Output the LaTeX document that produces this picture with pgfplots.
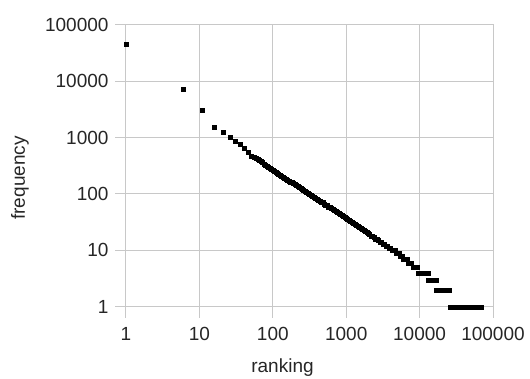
\documentclass[border=0pt]{standalone}
\usepackage{fontspec}
\setmainfont{Liberation Sans}
\usepackage{pgfplots}
\pgfplotsset{compat=1.18}
\usepackage{pgfplotstable}
\definecolor{gridgray}{RGB}{200,200,200}
\pgfplotstableread{
r f
1 46000
6 7100
11 3100
16 1550
21 1250
26 1000
31 870
36 760
41 640
46 550
51 470
56 450
60 427
63 408
66 391
69 374
72 358
76 343
79 327
83 313
87 300
91 287
95 275
100 263
105 253
110 243
115 234
120 225
126 216
132 208
138 200
145 192
151 185
158 178
166 171
174 164
182 158
191 152
200 146
209 141
219 135
229 130
240 125
251 120
263 116
275 111
288 107
302 103
316 99
331 95
347 91
363 88
380 85
398 81
417 78
437 75
457 72
479 70
501 67
525 64
550 62
575 59
603 57
631 55
661 53
692 51
724 49
759 47
794 45
832 43
871 42
912 40
955 39
1000 37
1047 36
1096 34
1148 33
1202 32
1259 30
1318 29
1380 28
1445 27
1514 26
1585 25
1660 24
1738 23
1820 22
1905 21
1995 20
2089 19
2188 18
2291 18
2399 17
2512 16
2630 16
2754 15
2884 14
3020 14
3162 13
3311 13
3467 12
3631 12
3802 11
3981 11
4169 10
4365 10
4500 10
4650 10
4800 9
4950 9
5100 9
5250 9
5450 8
5650 8
5850 8
6050 7
6250 7
6500 7
6750 7
7000 6
7250 6
7500 6
7800 6
8100 5
8400 5
8700 5
9000 5
9300 5
9700 4
10000 4
10300 4
10600 4
11000 4
11400 4
11800 4
12200 4
12500 4
12900 4
13000 3
13400 3
13800 3
14200 3
14600 3
15100 3
15600 3
16100 3
16700 3
17000 2
17500 2
18100 2
18700 2
19300 2
20000 2
20700 2
21400 2
22100 2
22900 2
23700 2
24500 2
25300 2
25600 2
26000 1
26800 1
27700 1
28600 1
29500 1
30400 1
31400 1
32400 1
33400 1
34500 1
35600 1
36700 1
37900 1
39100 1
40400 1
41700 1
43000 1
44400 1
45800 1
47300 1
48800 1
50300 1
51900 1
53600 1
55300 1
57100 1
58900 1
60800 1
62700 1
64700 1
66800 1
68000 1
}\zipfdata
\begin{document}
\begin{tikzpicture}[font=\fontsize{19}{23}\selectfont]
\path[use as bounding box] (-126pt,-71.3pt) rectangle (404pt,306.7pt);
\begin{axis}[
  at={(0pt,0pt)}, anchor=south west,
  scale only axis, width=367pt, height=282pt,
  xmode=log, ymode=log,
  xmin=1, xmax=100000, ymin=1, ymax=100000,
  xtick={1,10,100,1000,10000,100000},
  ytick={1,10,100,1000,10000,100000},
  xticklabels={1,10,100,1000,10000,100000},
  yticklabels={1,10,100,1000,10000,100000},
  xticklabel style={yshift=-6pt, text=black!85},
  yticklabel style={xshift=-3pt, text=black!85},
  xminorticks=false, yminorticks=false,
  grid=major,
  major grid style={gridgray, line width=1pt},
  axis line style={gridgray, line width=1pt},
  tick style={gridgray, line width=1pt},
  tick align=outside, major tick length=11pt,
  xtick pos=left, ytick pos=left,
  xlabel={ranking}, ylabel={frequency},
  xlabel style={at={(axis description cs:0.4264,-0.2316)}, anchor=base, text=black!85},
  ylabel style={at={(axis description cs:-0.2752,0.4564)}, anchor=base, text=black!85},
  clip=false,
]
\addplot[only marks, mark=square*, mark size=2pt, black] table[x=r, y=f] {\zipfdata};
\end{axis}
\end{tikzpicture}
\end{document}
